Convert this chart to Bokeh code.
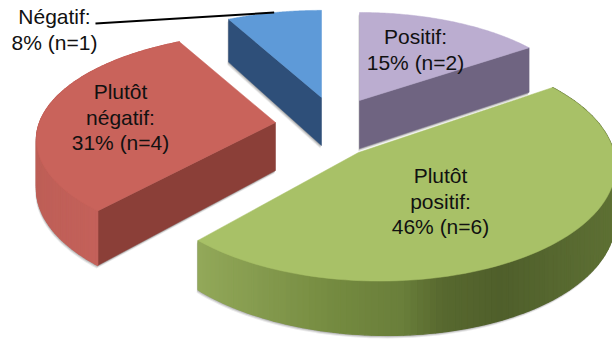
import math
from bokeh.plotting import figure
from bokeh.embed import file_html
from bokeh.resources import INLINE
from bokeh.core.properties import value

# Survey responses, clockwise from twelve o'clock
categories = ["Positif", "Plutôt positif", "Plutôt négatif", "Négatif"]
counts = [2, 6, 4, 1]
label_lines = [
    ["Positif:", "15% (n=2)"],
    ["Plutôt", "positif:", "46% (n=6)"],
    ["Plutôt", "négatif:", "31% (n=4)"],
    ["Négatif:", "8% (n=1)"],
]
top_colors = ["#BBADD0", "#A8C167", "#C9635B", "#5E9AD8"]
radial_colors = ["#6F6481", None, "#8B3F38", "#2E4F79"]

# Exploded wedge placement: apex x, apex y, radius x, radius y,
# depth foreshortening, sideways foreshortening
wedges = [
    (359, 100, 222, 100, 0.136, 0.0),
    (358, 152, 235, 114, 0.11, 0.08),
    (275, 122, 236, 104, 0.16, 0.0),
    (321, 97, 224, 99, 0.136, 0.0),
]
label_x = [415, 440, 120, 54]
label_first_y = [36, 175, 91, 16]
label_step = 25.5
depth = 48

# Rim shading by screen x for the two wedges whose rim faces front
wall_stops = {
    1: [(198, "#92A859"), (340, "#73893F"), (400, "#6A7F3B"), (440, "#58692F"),
        (500, "#4F5F2B"), (612, "#5E7034")],
    2: [(37, "#BE5F57"), (95, "#C4615A")],
}


def hex_rgb(c):
    return [int(c[i:i + 2], 16) for i in (1, 3, 5)]


def shade(stops, x):
    if x <= stops[0][0]:
        return stops[0][1]
    for (x0, c0), (x1, c1) in zip(stops, stops[1:]):
        if x <= x1:
            t = (x - x0) / (x1 - x0)
            a, b = hex_rgb(c0), hex_rgb(c1)
            return "#%02x%02x%02x" % tuple(round(p + (q - p) * t) for p, q in zip(a, b))
    return stops[-1][1]


def project(w, theta, drop=0.0):
    """Map a rim point to the page: the far side of the pie shrinks."""
    cx, cy, rx, ry, fore, side = w
    u, v = math.sin(theta), math.cos(theta)
    s = 1 / (1 + fore * v - side * u)
    return cx + rx * u * s, cy - ry * v * s + drop * s


def arc(w, a0, a1, drop=0.0, n=90):
    return [project(w, a0 + (a1 - a0) * i / n, drop) for i in range(n + 1)]


def hull(points):
    pts = sorted(set(points))

    def half(seq):
        out = []
        for q in seq:
            while len(out) > 1 and (out[-1][0] - out[-2][0]) * (q[1] - out[-2][1]) - \
                    (out[-1][1] - out[-2][1]) * (q[0] - out[-2][0]) <= 0:
                out.pop()
            out.append(q)
        return out[:-1]

    return half(pts) + half(pts[::-1])


p = figure(width=612, height=339, x_range=(0, 612), y_range=(339, 0),
           output_backend="svg", toolbar_location=None, min_border=0,
           outline_line_color=None, background_fill_color="white")
p.axis.visible = False
p.grid.visible = False

total = sum(counts)
edges = [0.0]
for c in counts:
    edges.append(edges[-1] + 2 * math.pi * c / total)

# Far wedges first so that the large front wedge overlaps them
for i in (3, 0, 2, 1):
    w, a0, a1 = wedges[i], edges[i], edges[i + 1]
    top = [(w[0], w[1])] + arc(w, a0, a1)
    low = [(w[0], w[1] + depth)] + arc(w, a0, a1, depth)

    # Soft cast shadow around the solid
    outline = hull(top + low)
    for off, alpha in ((3.0, 0.10), (2.0, 0.16), (1.0, 0.22)):
        p.patch([q[0] - 0.4 * off for q in outline], [q[1] + off for q in outline],
                fill_color="#333333", fill_alpha=alpha, line_color=None)

    # Flat cut face of the wedge
    if radial_colors[i]:
        a = a1 if i == 0 else a0
        ox, oy = project(w, a)
        qx, qy = project(w, a, depth)
        p.patch([w[0], ox, qx, w[0]], [w[1], oy, qy, w[1] + depth],
                fill_color=radial_colors[i], line_color=radial_colors[i], line_width=0.5)

    # Curved rim
    if i in wall_stops:
        upper = arc(w, a0, a1, 0.0, 120)
        lower = arc(w, a0, a1, depth, 120)
        for (t0, t1, b1, b0) in zip(upper, upper[1:], lower[1:], lower):
            col = shade(wall_stops[i], (t0[0] + t1[0]) / 2)
            p.patch([t0[0], t1[0], b1[0], b0[0]], [t0[1], t1[1], b1[1], b0[1]],
                    fill_color=col, line_color=col, line_width=1.2)

    # Top face
    p.patch([q[0] for q in top], [q[1] for q in top],
            fill_color=top_colors[i], line_color=top_colors[i], line_width=0.5)

# Leader from the smallest wedge's rim to its outside label
mid = (edges[3] + edges[4]) / 2
lx, ly = project(wedges[3], mid)
p.line([95, lx], [23, ly], line_color="black", line_width=2)

# Data labels
for ax, y0, lines in zip(label_x, label_first_y, label_lines):
    p.text(x=[ax] * len(lines), y=[y0 + k * label_step for k in range(len(lines))], text=lines,
           text_font=value("Liberation Sans"), text_font_size="21px",
           text_color="#111111", text_align="center", text_baseline="middle")

open("out.html", "w").write(file_html(p, INLINE))
